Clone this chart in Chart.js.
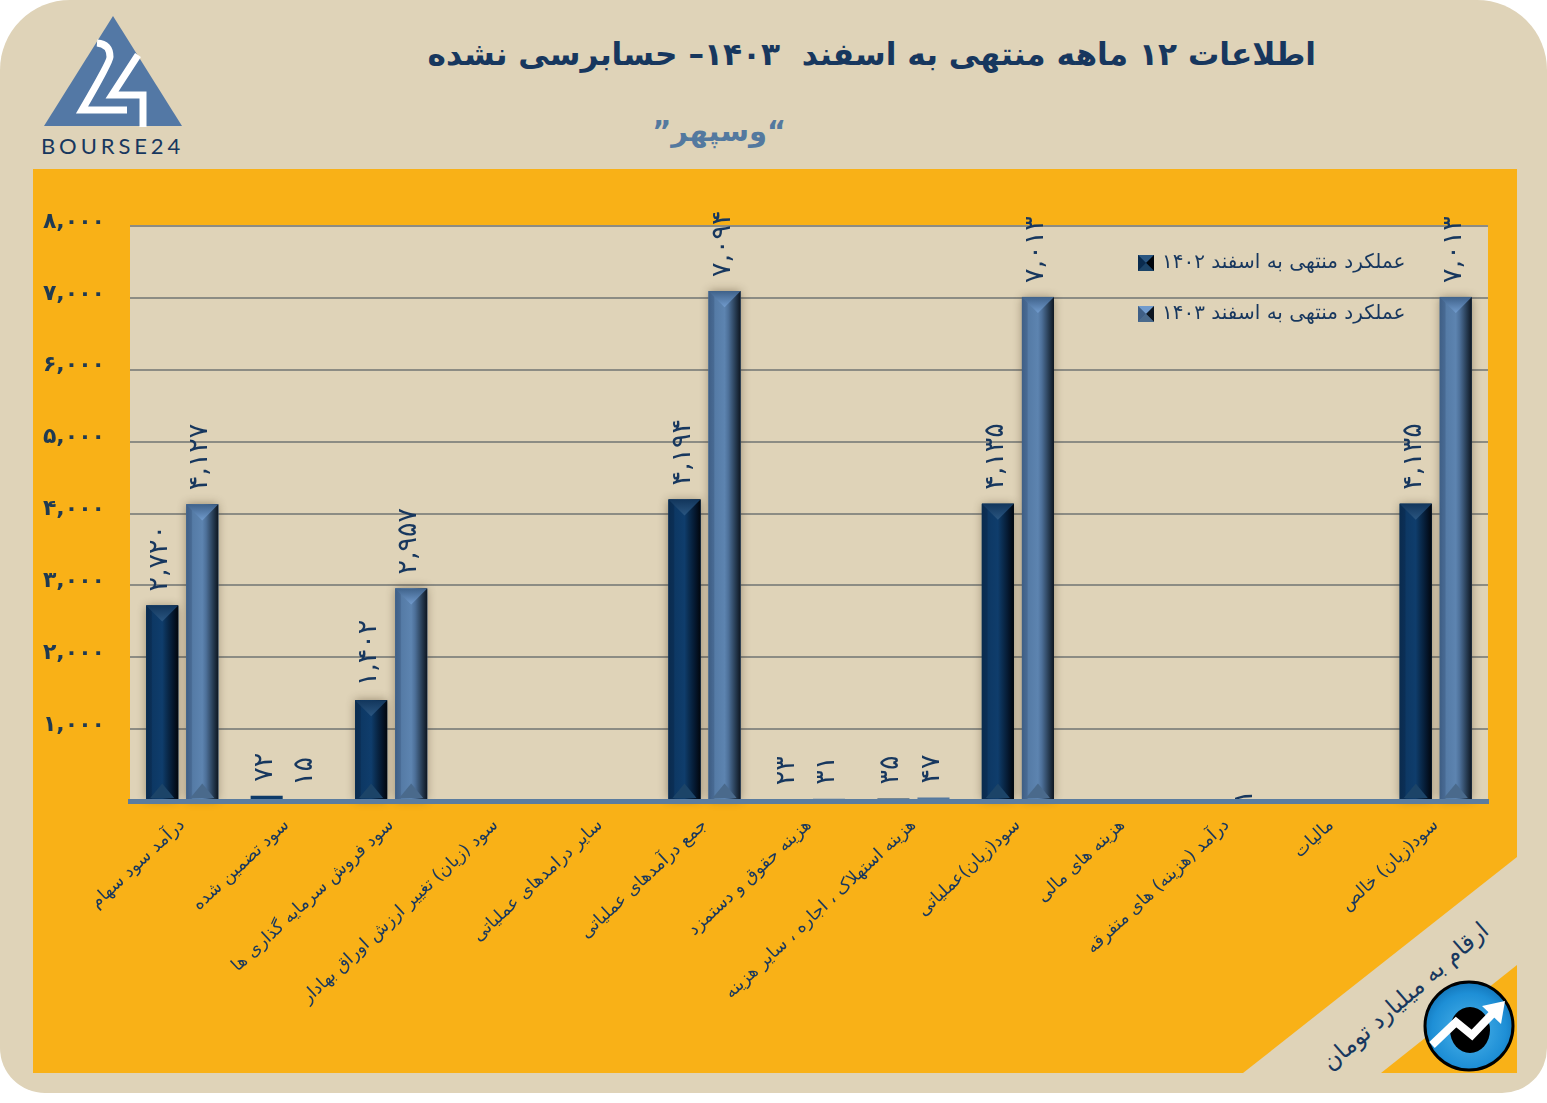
<!DOCTYPE html>
<html lang="fa">
<head>
<meta charset="utf-8">
<title>وسپهر</title>
<script src="https://cdn.jsdelivr.net/npm/chart.js@4"></script>
<style>
html,body{margin:0;padding:0;width:1547px;height:1103px;background:#fff;overflow:hidden;font-family:"DejaVu Sans",sans-serif}
#panel{position:absolute;left:0;top:0;width:1547px;height:1093px;background:#dfd3b8;border-radius:70px 70px 45px 45px}
#orange{position:absolute;left:33px;top:169px;width:1484px;height:904px;background:#f9b117}
#deco,#logo,#badge{position:absolute;left:0;top:0}
canvas{position:absolute;left:0;top:0;direction:rtl}
.t{position:absolute;direction:rtl;white-space:pre;line-height:1;margin:0}
#title{right:231px;top:39px;font-size:31.2px;font-weight:bold;color:#17375e}
#sub{right:761px;top:117px;font-size:29px;font-weight:bold;color:#54799f}
#unit{left:1310px;top:981px;width:200px;text-align:center;font-size:23.5px;color:#17375e;transform:rotate(-41deg)}
#brand{left:41px;top:132px;direction:ltr;font:22px Lato,sans-serif;letter-spacing:3.9px;color:#17375e}
</style>
</head>
<body>
<div id="panel"></div>
<div id="orange"></div>
<svg id="deco" width="1547" height="1103"><polygon points="1517,857 1243,1073 1381,1073 1517,965" fill="#dfd3b8"/></svg>
<svg id="logo" width="200" height="130">
<polygon points="113,16 44,126 182,126" fill="#5378a5"/>
<path d="M97,43 Q110,44 110,57 Q110,62 82,110 L127,110" fill="none" stroke="#fff" stroke-width="7"/>
<path d="M138,55 L112,95 L143,95 L143,127" fill="none" stroke="#fff" stroke-width="7"/>
</svg>
<div class="t" id="brand">BOURSE24</div>
<h1 class="t" id="title">اطلاعات ۱۲ ماهه منتهی به اسفند  ۱۴۰۳– حسابرسی نشده</h1>
<div class="t" id="sub">“وسپهر”</div>
<div class="t" id="unit">ارقام به میلیارد تومان</div>
<canvas id="c" width="1547" height="1103"></canvas>
<svg id="badge" width="1547" height="1103">
<defs><radialGradient id="bg" cx="50%" cy="55%" r="60%"><stop offset="0" stop-color="#4db4ea"/><stop offset=".7" stop-color="#1e8fd6"/><stop offset="1" stop-color="#0f6db0"/></radialGradient></defs>
<circle cx="1469" cy="1026" r="44" fill="url(#bg)" stroke="#000" stroke-width="3"/>
<ellipse cx="1470" cy="1030" rx="20" ry="23" fill="#000"/>
<polyline points="1432,1045 1456,1022 1472,1035 1498,1008" fill="none" stroke="#fff" stroke-width="8"/>
<polygon points="1505,1001 1482,1006 1501,1024" fill="#fff"/>
</svg>
<script>
const categories = [
  'درآمد سود سهام',
  'سود تضمین شده',
  'سود فروش سرمایه گذاری ها',
  'سود (زیان) تغییر ارزش اوراق بهادار',
  'سایر درامدهای عملیاتی',
  'جمع درآمدهای عملیاتی',
  'هزینه حقوق و دستمزد',
  'هزینه استهلاک ، اجاره ، سایر هزینه',
  'سود(زیان)عملیاتی',
  'هزینه های مالی',
  'درآمد (هزینه) های متفرقه',
  'مالیات',
  'سود(زیان) خالص'
];
const series1402 = [2720, 72, 1402, null, null, 4194, 23, 35, 4135, null, null, null, 4135];
const series1403 = [4127, 15, 2957, null, null, 7094, 31, 47, 7013, null, 1, null, 7013];
const seriesNames = ['عملکرد منتهی به اسفند ۱۴۰۲', 'عملکرد منتهی به اسفند ۱۴۰۳'];
const yMax = 8000, yStep = 1000;

const fa = n => String(n).replace(/\B(?=(\d{3})+(?!\d))/g, ',').replace(/\d/g, d => '۰۱۲۳۴۵۶۷۸۹'[d]);
const INK = '#17375e';
const looks = [
  {base:'#0e3b69', stops:[[0,'#0a2b4e'],[.16,'#0b2f56'],[.2,'#0d3864'],[.5,'#0f3d6c'],[.62,'#0b2f54'],[.85,'#04152a'],[1,'#02060c']], cap:['#12365c','#2a5681'], foot:'#1c4468', edge:'#092745'},
  {base:'#55799f', stops:[[0,'#3f5f86'],[.16,'#486a93'],[.2,'#557ba6'],[.5,'#5d84b0'],[.62,'#4d7099'],[.85,'#25394f'],[1,'#0e1620']], cap:['#3f628a','#719bcd'], foot:'#4a6a8c', edge:'#3a5a80'}
];

function swatch(l){
  const s = document.createElement('canvas'); s.width = s.height = 16;
  const g = s.getContext('2d');
  g.fillStyle = l.base; g.fillRect(0,0,16,16);
  const tri = (p,c) => {g.fillStyle=c; g.beginPath(); g.moveTo(...p[0]); g.lineTo(...p[1]); g.lineTo(...p[2]); g.fill();};
  tri([[0,0],[16,0],[8,8]], l.cap[1]);
  tri([[16,0],[16,16],[8,8]], l.stops[6][1]);
  tri([[0,0],[0,16],[8,8]], l.stops[0][1]);
  tri([[0,16],[16,16],[8,8]], l.foot);
  return s;
}
const swatches = looks.map(swatch);

const barFx = {
  id:'barFx',
  beforeDatasetDraw(chart,{meta}){
    const c = chart.ctx; c.save();
    c.shadowColor='rgba(60,45,20,.45)'; c.shadowBlur=9; c.shadowOffsetX=0; c.shadowOffsetY=0;
    meta.data.forEach((el,i)=>{
      if(chart.data.datasets[meta.index].data[i]==null) return;
      const h=el.base-el.y; if(h<8) return;
      c.fillStyle=looks[meta.index].base;
      c.fillRect(el.x-el.width/2,el.y,el.width,h);
    });
    c.restore();
  },
  afterDatasetDraw(chart,{meta}){
    const c = chart.ctx, l = looks[meta.index];
    meta.data.forEach((el,i)=>{
      if(chart.data.datasets[meta.index].data[i]==null) return;
      const h=el.base-el.y; if(h<8) return;
      const L=el.x-el.width/2, R=el.x+el.width/2, T=el.y, B=el.base-2, d=Math.min(el.width/2,h/2);
      const g=c.createLinearGradient(L,0,R,0);
      l.stops.forEach(s=>g.addColorStop(s[0],s[1]));
      c.save();
      c.fillStyle=g; c.fillRect(L,T,el.width,h);
      const cg=c.createLinearGradient(0,T,0,T+d);
      cg.addColorStop(0,l.cap[0]); cg.addColorStop(1,l.cap[1]);
      c.fillStyle=cg; c.beginPath(); c.moveTo(L,T); c.lineTo(R,T); c.lineTo(el.x,T+d); c.fill();
      c.fillStyle=l.foot; c.beginPath(); c.moveTo(L+4,B); c.lineTo(R-4,B); c.lineTo(el.x,B-d*.9); c.fill();
      c.restore();
    });
  }
};

const valueLabels = {
  id:'valueLabels',
  afterDatasetsDraw(chart){
    const c = chart.ctx;
    chart.data.datasets.forEach((ds,di)=>{
      chart.getDatasetMeta(di).data.forEach((el,i)=>{
        const v=ds.data[i]; if(v==null) return;
        c.save();
        c.translate(el.x-2, el.y-(v<=2?-3:14));
        c.rotate(-Math.PI/2);
        c.font='27px "DejaVu Sans"'; c.fillStyle=INK;
        c.textAlign='left'; c.textBaseline='middle';
        c.fillText(fa(v),0,0);
        c.restore();
      });
    });
  }
};

const plotBack = {
  id:'plotBack',
  beforeDraw(chart){
    const {ctx:c,chartArea:a}=chart;
    c.save(); c.fillStyle='#dfd3b8'; c.fillRect(a.left,a.top,a.right-a.left,a.bottom-a.top); c.restore();
  }
};

const legendPlace = {
  id:'legendPlace',
  afterLayout(chart){
    const lg=chart.legend; if(!lg) return;
    lg.left=1109; lg.right=1425; lg.top=222; lg.bottom=780;
  }
};

new Chart(document.getElementById('c'),{
  type:'bar',
  data:{labels:categories,datasets:[
    {label:seriesNames[0],data:series1402,backgroundColor:looks[0].base,categoryPercentage:.767,barPercentage:.8},
    {label:seriesNames[1],data:series1403,backgroundColor:looks[1].base,categoryPercentage:.767,barPercentage:.8}
  ]},
  plugins:[plotBack,barFx,valueLabels,legendPlace],
  options:{
    responsive:false,animation:false,devicePixelRatio:1,
    layout:{padding:{left:0,top:226,right:59,bottom:62}},
    plugins:{
      title:{display:false},tooltip:{enabled:false},
      legend:{
        position:'chartArea',align:'start',
        labels:{
          color:INK,font:{family:'"DejaVu Sans"',size:20},padding:31,boxWidth:16,boxHeight:16,usePointStyle:true,pointStyleWidth:12,
          generateLabels(chart){
            return Chart.defaults.plugins.legend.labels.generateLabels(chart).map((it,i)=>({...it,pointStyle:swatches[i]}));
          }
        }
      }
    },
    scales:{
      x:{
        afterFit(s){s.height=240;},
        grid:{display:false,drawTicks:false},
        border:{display:true,color:'#5b7c9f',width:5,z:1},
        ticks:{autoSkip:false,minRotation:43,maxRotation:43,padding:14,color:INK,font:{family:'"DejaVu Sans"',size:17.5}}
      },
      y:{
        min:0,max:yMax,
        afterFit(s){s.width=130;},
        grid:{color:'#8c8c84',lineWidth:2,drawTicks:false},
        border:{display:false},
        ticks:{stepSize:yStep,padding:25,labelOffset:-4,color:'#1f3a52',font:{family:'"DejaVu Sans"',size:22,weight:'bold'},
          callback:v=>v===0?'':fa(v)}
      }
    }
  }
});
</script>
</body>
</html>
